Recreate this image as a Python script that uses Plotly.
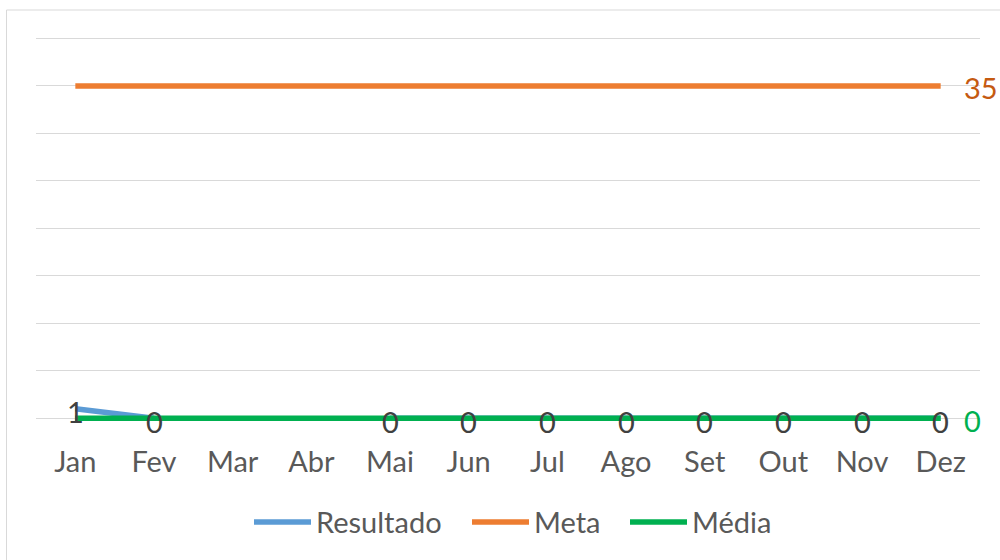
import plotly.graph_objects as go

meses = ["Jan", "Fev", "Mar", "Abr", "Mai", "Jun", "Jul", "Ago", "Set", "Out", "Nov", "Dez"]
resultado = [1, 0, None, None, 0, 0, 0, 0, 0, 0, 0, 0]
meta = [35] * 12
media = [0] * 12

FONT = "Lato"
FS = 29

W, H = 1000, 560
Y0, Y1 = -0.5, 41.0
PX_PER_UNIT = 9.5
ZERO_PX = 418
L, R = 36, 980
B = ZERO_PX - Y0 * PX_PER_UNIT
T = ZERO_PX - Y1 * PX_PER_UNIT

def px_x(x):
    return (x - L) / (R - L)

def px_y(y):
    return (B - y) / (B - T)

fig = go.Figure()
fig.add_trace(go.Scatter(x=meses, y=resultado, name="Resultado", mode="lines",
                         line=dict(color="#5B9BD5", width=5.5), legend="legend"))
fig.add_trace(go.Scatter(x=meses, y=meta, name="Meta", mode="lines",
                         line=dict(color="#ED7D31", width=5.5), legend="legend2"))
fig.add_trace(go.Scatter(x=meses, y=media, name="Média", mode="lines",
                         line=dict(color="#00B050", width=5.5), legend="legend3"))

for m, v in zip(meses, resultado):
    if v is None:
        continue
    fig.add_annotation(x=m, y=v, text=str(v), showarrow=False,
                       xanchor="center", yanchor="middle", yshift=-3,
                       font=dict(color="#404040", size=FS, family=FONT))

fig.add_annotation(x=meses[-1], y=meta[-1], text=str(meta[-1]), showarrow=False,
                   xanchor="left", xshift=21, yshift=-2,
                   font=dict(color="#C55A11", size=FS, family=FONT))
fig.add_annotation(x=meses[-1], y=media[-1], text=str(media[-1]), showarrow=False,
                   xanchor="left", xshift=21, yshift=-2,
                   font=dict(color="#00B050", size=FS, family=FONT))

def leg(xpx):
    return dict(orientation="h", x=px_x(xpx), xanchor="left", y=px_y(522),
                yanchor="middle", font=dict(size=FS, color="#595959"),
                itemwidth=57, bgcolor="rgba(0,0,0,0)")

fig.update_layout(
    width=W, height=H,
    margin=dict(l=L, r=W - R, t=T, b=H - B, autoexpand=False),
    paper_bgcolor="white", plot_bgcolor="white",
    font=dict(family=FONT, size=FS, color="#595959"),
    showlegend=True,
    legend=leg(249), legend2=leg(467), legend3=leg(625),
    xaxis=dict(showgrid=False, showline=False, zeroline=False, ticks="",
               tickfont=dict(size=FS, color="#595959"), ticklabelstandoff=19,
               range=[-0.5, 11.5]),
    yaxis=dict(range=[Y0, Y1], dtick=5, tick0=0, showgrid=True, gridcolor="#D9D9D9",
               gridwidth=1, zeroline=True, zerolinecolor="#D9D9D9", zerolinewidth=1,
               showticklabels=False, showline=False),
    shapes=[dict(type="rect", xref="paper", yref="paper",
                 x0=px_x(6.5), x1=px_x(1010), y0=px_y(600), y1=px_y(9.5),
                 line=dict(color="#D9D9D9", width=1), layer="below")],
)

fig.write_html("out.html", config={"displayModeBar": False},
               post_script="document.body.style.margin='0';")
